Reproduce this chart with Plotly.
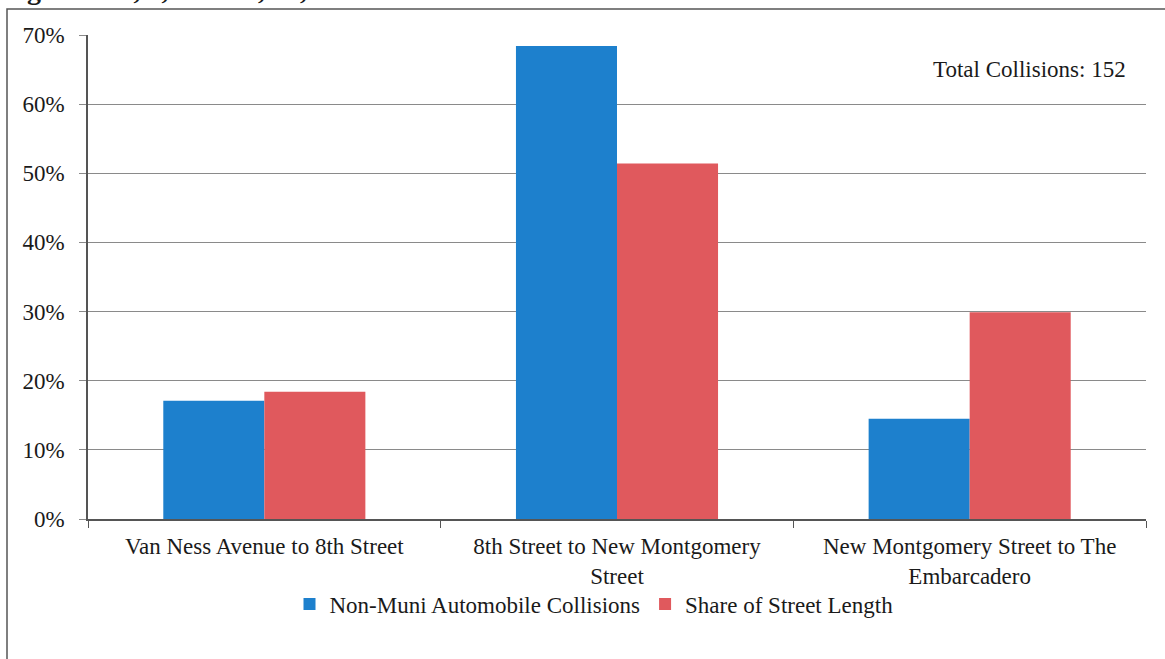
import plotly.graph_objects as go

# Street segments along the corridor
segments = [
    "Van Ness Avenue to 8th Street",
    "8th Street to New Montgomery<br>Street",
    "New Montgomery Street to The<br>Embarcadero",
]

# Shares (percent) per segment
collisions_share = [17.1, 68.4, 14.5]
street_length_share = [18.4, 51.4, 29.9]

series_names = ["Non-Muni Automobile Collisions", "Share of Street Length"]
y_ticks = [0, 10, 20, 30, 40, 50, 60, 70]
y_tick_labels = [f"{v}%" for v in y_ticks]

total_collisions = 152
heading = "Segments 7, 8, 11 \u2013 12, 14, 15"

BLUE = "#1d80cd"
RED = "#e0595d"
FONT = "Liberation Serif"
TXT = "#1a1a1a"

W, H = 1165, 659
L, R, T, B = 88, 19, 35, 140
plot_w = W - L - R
plot_h = H - T - B


def px_x(p):
    return (p - L) / plot_w


def px_y(p):
    return (H - B - p) / plot_h


fig = go.Figure()
fig.add_trace(go.Bar(x=segments, y=collisions_share, name=series_names[0],
                     marker=dict(color=BLUE, line=dict(width=0))))
fig.add_trace(go.Bar(x=segments, y=street_length_share, name=series_names[1],
                     marker=dict(color=RED, line=dict(width=0))))

fig.update_layout(
    width=W, height=H,
    margin=dict(l=L, r=R, t=T, b=B, autoexpand=False),
    paper_bgcolor="white", plot_bgcolor="white",
    font=dict(family=FONT, size=23, color=TXT),
    barmode="group", bargap=0.427, bargroupgap=0,
    showlegend=True,
    legend=dict(orientation="h", x=px_x(594), xanchor="center",
                y=px_y(604), yanchor="middle",
                bgcolor="rgba(0,0,0,0)",
                font=dict(family=FONT, size=23, color=TXT),
                itemwidth=30, tracegroupgap=0),
    xaxis=dict(
        showgrid=False, showline=True, linecolor="#555555", linewidth=1.5,
        ticks="outside", ticklen=7, tickcolor="#555555", tickson="boundaries",
        tickfont=dict(family=FONT, size=23, color=TXT),
        ticklabelstandoff=6,
        range=[-0.5, 2.5],
    ),
    yaxis=dict(
        range=[0, 70], tickvals=y_ticks, ticktext=y_tick_labels,
        showgrid=True, gridcolor="#8a8a8a", gridwidth=1,
        zeroline=False,
        showline=True, linecolor="#555555", linewidth=1.5,
        ticks="outside", ticklen=7, tickcolor="#8a8a8a",
        tickfont=dict(family=FONT, size=23, color=TXT),
        ticklabelstandoff=10,
    ),
    annotations=[
        dict(text=f"Total Collisions: {total_collisions}", xref="paper", yref="paper",
             x=px_x(1128), y=px_y(69), xanchor="right", yanchor="middle",
             showarrow=False, font=dict(family=FONT, size=23, color=TXT)),
        dict(text=f"<b>{heading}</b>", xref="paper", yref="paper",
             x=px_x(-2), y=px_y(6), xanchor="left", yanchor="bottom",
             showarrow=False, font=dict(family=FONT, size=28, color=TXT),
             borderpad=0),
    ],
    shapes=[
        dict(type="rect", xref="paper", yref="paper",
             x0=px_x(7), y0=px_y(9), x1=px_x(W + 20), y1=px_y(H + 20),
             line=dict(color="#555555", width=1.5), layer="below"),
    ],
)

fig.write_html("out.html")
